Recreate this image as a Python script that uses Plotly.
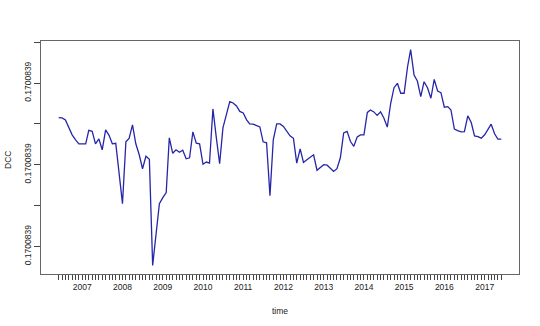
import pandas as pd
import plotly.graph_objects as go

# monthly DCC series, June 2006 - June 2017 (offsets in units of 1e-9 above 0.1700839)
start_month = "2006-06-01"
dcc_offset = [
    3.154, 3.146, 3.098, 2.927, 2.732, 2.610, 2.512, 2.512, 2.512, 2.841,
    2.817, 2.512, 2.634, 2.366, 2.854, 2.720, 2.512, 2.524, 1.805, 1.049,
    2.561, 2.646, 2.976, 2.512, 2.244, 1.902, 2.207, 2.134, -0.463, 0.293,
    1.049, 1.195, 1.317, 2.659, 2.280, 2.366, 2.305, 2.354, 2.146, 2.171,
    2.805, 2.529, 2.512, 2.012, 2.066, 2.041, 3.366, 2.683, 2.024, 2.902,
    3.195, 3.544, 3.512, 3.439, 3.305, 3.268, 3.098, 3.000, 2.993, 2.968,
    2.927, 2.561, 2.537, 1.244, 2.610, 3.000, 3.000, 2.939, 2.805, 2.707,
    2.646, 2.041, 2.390, 2.056, 2.122, 2.178, 2.244, 1.866, 1.927, 2.000,
    1.988, 1.927, 1.837, 1.902, 2.171, 2.780, 2.817, 2.568, 2.451, 2.683,
    2.732, 2.732, 3.280, 3.341, 3.293, 3.207, 3.293, 3.146, 2.920, 3.505,
    3.885, 3.993, 3.749, 3.749, 4.398, 4.817, 4.195, 4.049, 3.666, 4.032,
    3.885, 3.627, 4.090, 3.805, 3.763, 3.407, 3.422, 3.341, 2.871, 2.837,
    2.805, 2.812, 3.195, 3.032, 2.707, 2.690, 2.651, 2.732, 2.854, 2.993,
    2.756, 2.627, 2.627,
]
base_value = 0.1700839
y_tick_offsets = [0, 1, 2, 3, 4, 5]
y_tick_labels = ["0.1700839", "", "0.1700839", "", "0.1700839", ""]

dates = pd.date_range(start_month, periods=len(dcc_offset), freq="MS")
dcc = [base_value + v * 1e-9 for v in dcc_offset]

# R-style 4% axis extension
span = dates[-1] - dates[0]
x_range = [dates[0] - 0.04 * span, dates[-1] + 0.04 * span]
ymin, ymax = min(dcc), max(dcc)
yr = ymax - ymin
y_range = [ymin - 0.04 * yr, ymax + 0.04 * yr]

x_tickvals = list(dates)
x_ticktext = [str(d.year) if d.month == 1 else "" for d in dates]

fig = go.Figure()
fig.add_trace(go.Scatter(
    x=dates, y=dcc, mode="lines",
    line=dict(color="#2626a8", width=1.3),
    hoverinfo="skip", showlegend=False,
))

font_family = "Liberation Sans, Arial, sans-serif"
fig.update_layout(
    width=540, height=326,
    margin=dict(l=41, r=21, t=41, b=52),
    paper_bgcolor="white", plot_bgcolor="white",
    font=dict(family=font_family, size=8, color="#222"),
    xaxis=dict(
        range=x_range, showgrid=False, zeroline=False,
        showline=True, linecolor="#666", linewidth=1, mirror=True,
        tickmode="array", tickvals=x_tickvals, ticktext=x_ticktext,
        ticks="outside", ticklen=5, tickwidth=0.8, tickcolor="#444",
        tickangle=0, tickfont=dict(size=8.5, color="#222"),
    ),
    yaxis=dict(
        range=y_range, showgrid=False, zeroline=False,
        showline=True, linecolor="#666", linewidth=1, mirror=True,
        tickmode="array",
        tickvals=[base_value + t * 1e-9 for t in y_tick_offsets],
        ticktext=y_tick_labels,
        ticks="outside", ticklen=6, tickwidth=0.8, tickcolor="#444",
        tickangle=-90, tickfont=dict(size=8.5, color="#222"),
    ),
    annotations=[
        dict(text="DCC", x=8, y=160, xref="paper", yref="paper",
             showarrow=False, textangle=-90, font=dict(size=8.5, color="#222"),
             xanchor="center", yanchor="middle"),
        dict(text="time", x=0.5, y=0, xref="paper", yref="paper",
             showarrow=False, font=dict(size=8.5, color="#222"),
             xanchor="center", yanchor="middle"),
    ],
)
# place axis titles in pixel terms
plot_l, plot_r, plot_t, plot_b = 41, 519, 41, 274
pw, ph = plot_r - plot_l, plot_b - plot_t
fig.layout.annotations[0].x = (8 - plot_l) / pw
fig.layout.annotations[0].y = (plot_b - 160) / ph
fig.layout.annotations[1].x = (280 - plot_l) / pw
fig.layout.annotations[1].y = (plot_b - 311) / ph

fig.write_html("out.html")
